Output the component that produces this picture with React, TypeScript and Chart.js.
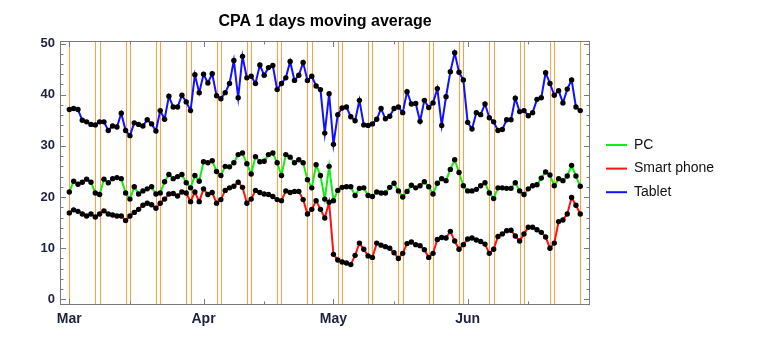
import React, { useEffect, useRef } from 'react';
import { Chart, registerables } from 'chart.js';

Chart.register(...registerables);

const TITLE = 'CPA 1 days moving average';
const SERIES_NAMES = ['PC', 'Smart phone', 'Tablet'];
const SERIES_COLORS = ['#11ee11', '#ff1111', '#1111ff'];

// Daily values, starting 2015-03-01 (day index 0) through 2015-06-27 (day 118)
const PC = [
  21.0, 23.1, 22.5, 22.9, 23.5, 22.9, 20.8, 20.5, 23.5, 22.8,
  23.6, 23.8, 23.6, 20.8, 19.6, 22.0, 20.6, 21.2, 21.6, 22.0,
  20.6, 20.8, 23.0, 24.4, 23.6, 24.0, 24.4, 22.8, 21.8, 24.2,
  23.1, 26.9, 26.7, 27.1, 25.0, 24.2, 26.0, 25.9, 26.7, 28.3,
  28.6, 26.5, 24.5, 27.9, 26.9, 27.0, 28.3, 28.6, 26.7, 24.2,
  28.3, 27.8, 26.7, 27.3, 26.7, 23.4, 21.8, 26.3, 24.2, 19.6,
  26.0, 19.3, 21.3, 21.9, 22.0, 22.0, 20.3, 21.7, 21.8, 20.3,
  20.1, 21.0, 20.8, 20.8, 21.9, 22.7, 21.2, 20.0, 21.1, 22.3,
  21.8, 22.2, 23.0, 22.0, 20.6, 22.7, 23.6, 23.2, 25.4, 27.3,
  24.8, 22.2, 21.2, 21.2, 21.5, 22.2, 22.8, 20.8, 19.7, 21.8,
  21.8, 21.7, 21.7, 22.8, 21.2, 20.5, 21.6, 22.2, 22.4, 23.7,
  24.9, 24.3, 22.2, 23.6, 23.2, 24.1, 26.2, 24.1, 22.1,
];
const SMART_PHONE = [
  16.9, 17.5, 17.2, 16.7, 16.3, 16.7, 16.1, 16.7, 17.3, 16.7,
  16.5, 16.3, 16.3, 15.4, 16.3, 17.0, 17.6, 18.4, 18.8, 18.5,
  17.8, 18.8, 19.6, 20.6, 20.7, 20.2, 21.0, 20.8, 19.1, 21.0,
  19.1, 21.6, 20.5, 20.9, 18.8, 19.5, 21.3, 21.8, 22.1, 22.9,
  21.9, 18.8, 19.6, 21.3, 20.9, 20.6, 20.5, 20.1, 19.5, 19.3,
  21.2, 20.9, 21.1, 21.1, 19.5, 16.7, 17.6, 19.3, 17.6, 15.9,
  19.0, 8.8, 7.7, 7.3, 7.1, 6.8, 8.6, 11.0, 9.8, 8.5,
  8.2, 11.0, 10.6, 10.3, 10.0, 9.1, 8.0, 9.0, 10.9, 11.2,
  10.7, 10.5, 9.7, 8.2, 9.0, 11.7, 12.1, 12.0, 13.3, 11.4,
  9.8, 10.7, 11.8, 12.0, 11.6, 11.3, 10.8, 9.0, 9.8, 12.3,
  12.8, 13.4, 13.5, 12.4, 11.4, 12.8, 14.1, 14.1, 13.6, 13.1,
  12.2, 10.0, 11.0, 15.2, 15.5, 16.7, 19.9, 18.4, 16.7,
];
const TABLET = [
  37.1, 37.3, 37.1, 35.0, 34.7, 34.2, 34.1, 34.7, 34.7, 33.0,
  33.9, 33.7, 36.4, 33.0, 32.0, 34.5, 34.2, 33.9, 35.1, 34.3,
  32.9, 36.9, 35.2, 39.7, 37.6, 37.6, 39.9, 38.6, 36.9, 43.9,
  40.4, 44.0, 42.3, 44.1, 39.8, 39.2, 40.4, 42.2, 46.7, 39.4,
  47.5, 43.3, 43.6, 42.2, 45.8, 43.8, 45.3, 45.7, 41.0, 42.2,
  43.3, 46.5, 42.8, 43.8, 46.3, 42.8, 43.6, 41.7, 41.0, 32.5,
  40.2, 30.3, 36.1, 37.4, 37.6, 35.7, 34.9, 38.9, 34.1, 34.0,
  34.3, 35.2, 37.3, 35.3, 35.8, 37.3, 37.6, 36.5, 40.6, 38.2,
  38.3, 34.8, 38.9, 37.5, 38.4, 41.2, 34.0, 39.6, 44.5, 48.2,
  44.4, 42.9, 34.6, 33.3, 36.5, 36.1, 38.2, 35.5, 34.7, 33.0,
  33.2, 35.1, 35.1, 39.3, 36.7, 36.9, 35.9, 36.5, 39.1, 39.4,
  44.3, 42.2, 39.9, 40.8, 38.4, 41.1, 42.9, 37.6, 36.9,
];

const MONTH_TICK_DAYS = [0, 31, 61, 92];
const MONTH_TICK_LABELS = ['Mar', 'Apr', 'May', 'Jun'];
const MID_MONTH_TICK_DAYS = [14, 45, 75, 106];
const WEEKEND_DAYS = [
  0, 6, 7, 13, 14, 20, 21, 27, 28, 34, 35, 41, 42, 48, 49, 55, 56, 62, 63,
  69, 70, 76, 77, 83, 84, 90, 91, 97, 98, 104, 105, 111, 112, 118,
];
const Y_MAJOR_TICKS = [0, 10, 20, 30, 40, 50];
const Y_MINOR_TICKS = [2, 4, 6, 8, 12, 14, 16, 18, 22, 24, 26, 28, 32, 34, 36, 38, 42, 44, 46, 48];

const FONT = '"Liberation Sans", Arial, Helvetica, sans-serif';
const LABEL_COLOR = '#1c2240';
const FRAME_COLOR = '#7a7a7a';
const WEEKEND_COLOR = '#ffa040';

const decorPlugin = {
  id: 'decor',
  beforeDatasetsDraw(chart: any) {
    const { ctx, chartArea: a, scales } = chart;
    const x = scales.x;
    ctx.save();
    ctx.strokeStyle = WEEKEND_COLOR;
    ctx.lineWidth = 1;
    WEEKEND_DAYS.forEach((d) => {
      const px = Math.round(x.getPixelForValue(d)) + 0.5;
      ctx.beginPath();
      ctx.moveTo(px, a.top);
      ctx.lineTo(px, a.bottom);
      ctx.stroke();
    });
    ctx.restore();
  },
  afterDraw(chart: any) {
    const { ctx, chartArea: a, scales } = chart;
    const x = scales.x;
    const y = scales.y;
    ctx.save();
    // frame
    ctx.strokeStyle = FRAME_COLOR;
    ctx.lineWidth = 1;
    ctx.strokeRect(a.left + 0.5, a.top + 0.5, a.right - a.left - 1, a.bottom - a.top - 1);
    // y ticks (inward, left and right)
    const yTick = (v: number, len: number) => {
      const py = Math.round(y.getPixelForValue(v)) + 0.5;
      ctx.beginPath();
      ctx.moveTo(a.left, py);
      ctx.lineTo(a.left + len, py);
      ctx.moveTo(a.right, py);
      ctx.lineTo(a.right - len, py);
      ctx.stroke();
    };
    Y_MAJOR_TICKS.forEach((v) => yTick(v, 6));
    Y_MINOR_TICKS.forEach((v) => yTick(v, 3.5));
    const xTick = (d: number, len: number) => {
      const px = Math.round(x.getPixelForValue(d)) + 0.5;
      ctx.beginPath();
      ctx.moveTo(px, a.bottom);
      ctx.lineTo(px, a.bottom - len);
      ctx.moveTo(px, a.top);
      ctx.lineTo(px, a.top + len);
      ctx.stroke();
    };
    MONTH_TICK_DAYS.forEach((d) => xTick(d, 6));
    MID_MONTH_TICK_DAYS.forEach((d) => xTick(d, 3.5));
    // title
    ctx.fillStyle = '#000';
    ctx.font = `bold 16px ${FONT}`;
    ctx.textAlign = 'center';
    ctx.textBaseline = 'middle';
    ctx.fillText(TITLE, (a.left + a.right) / 2, 22);
    // legend
    ctx.textAlign = 'left';
    ctx.font = `14px ${FONT}`;
    chart.data.datasets.forEach((ds: any, i: number) => {
      const ly = 145 + i * 23.6;
      ctx.strokeStyle = ds.borderColor;
      ctx.lineWidth = 2;
      ctx.beginPath();
      ctx.moveTo(606, ly);
      ctx.lineTo(627, ly);
      ctx.stroke();
      ctx.fillStyle = '#111';
      ctx.fillText(ds.label, 634, ly);
    });
    ctx.restore();
  },
};

export default function App() {
  const ref = useRef<HTMLCanvasElement | null>(null);
  useEffect(() => {
    if (!ref.current) return;
    const series = [PC, SMART_PHONE, TABLET];
    const chart = new Chart(ref.current, {
      type: 'line',
      data: {
        datasets: series.map((vals, i) => ({
          label: SERIES_NAMES[i],
          data: vals.map((v, d) => ({ x: d, y: v })),
          borderColor: SERIES_COLORS[i],
          backgroundColor: SERIES_COLORS[i],
          borderWidth: 2,
          pointRadius: 2.7,
          pointBackgroundColor: '#000',
          pointBorderColor: '#000',
          pointBorderWidth: 0,
          fill: false,
          tension: 0,
        })),
      },
      options: {
        animation: false,
        responsive: false,
        devicePixelRatio: 1,
        layout: { padding: { left: 0, right: 184, top: 41, bottom: 0 } },
        plugins: {
          legend: { display: false },
          title: { display: false },
          tooltip: { enabled: false },
        },
        scales: {
          x: {
            type: 'linear',
            min: -2.15,
            max: 120.25,
            grid: { display: false, drawTicks: false },
            border: { display: false },
            afterBuildTicks: (s: any) => {
              s.ticks = MONTH_TICK_DAYS.map((v) => ({ value: v }));
            },
            afterFit: (s: any) => {
              s.height = 44;
            },
            ticks: {
              autoSkip: false,
              maxRotation: 0,
              padding: 6,
              color: LABEL_COLOR,
              font: { family: FONT, size: 14, weight: 'bold' },
              callback: (v: any) => {
                const idx = MONTH_TICK_DAYS.indexOf(Number(v));
                return idx >= 0 ? MONTH_TICK_LABELS[idx] : '';
              },
            },
          },
          y: {
            type: 'linear',
            min: -1.1,
            max: 50.5,
            grid: { display: false, drawTicks: false },
            border: { display: false },
            afterBuildTicks: (s: any) => {
              s.ticks = Y_MAJOR_TICKS.map((v) => ({ value: v }));
            },
            afterFit: (s: any) => {
              s.width = 60;
            },
            ticks: {
              padding: 5,
              color: LABEL_COLOR,
              font: { family: FONT, size: 13, weight: 'bold' },
              callback: (v: any) => String(v),
            },
          },
        },
      } as any,
      plugins: [decorPlugin],
    });
    return () => chart.destroy();
  }, []);
  return (
    <div style={{ position: 'absolute', left: 0, top: 0, width: 774, height: 349, background: '#fff' }}>
      <canvas ref={ref} width={774} height={349} />
    </div>
  );
}
